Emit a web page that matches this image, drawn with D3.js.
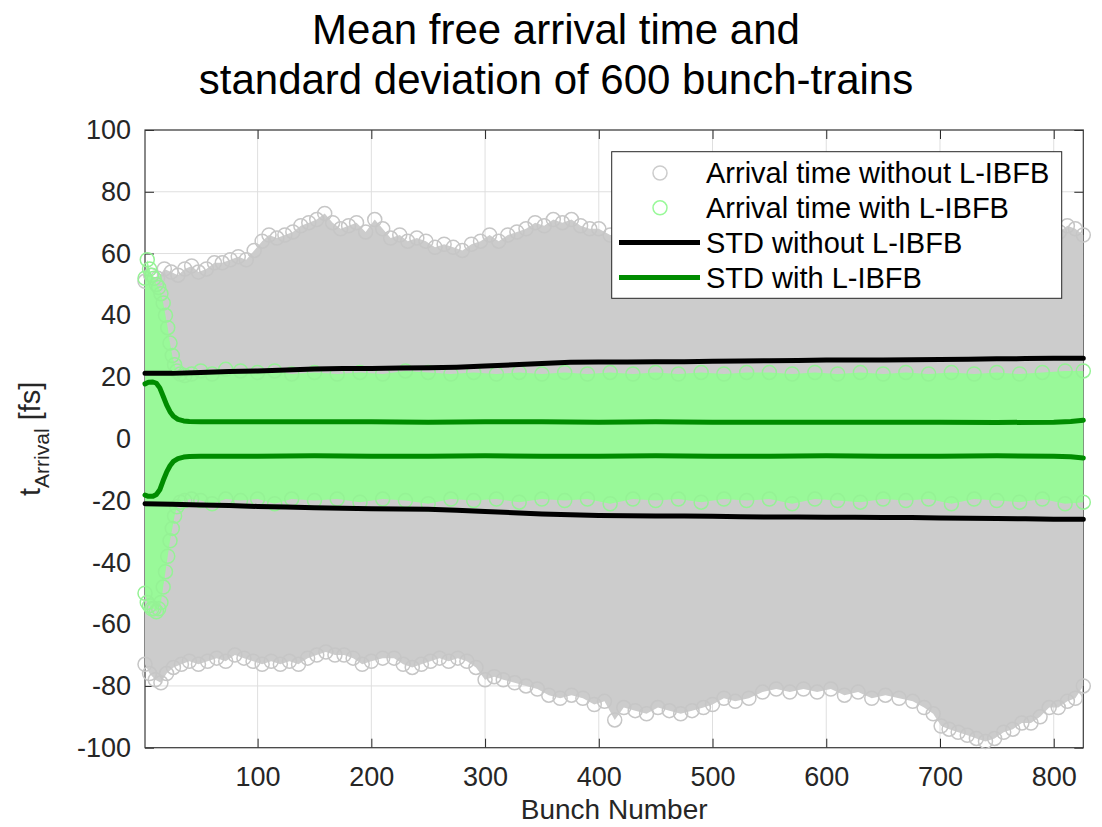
<!DOCTYPE html>
<html>
<head>
    <meta charset="utf-8">
    <title>Mean free arrival time</title>
    <style>
        body { margin: 0; background: #ffffff; }
        #chart text { font-family: "Liberation Sans", Arial, sans-serif; }
    </style>
    <script src="https://d3js.org/d3.v7.min.js"></script>
</head>
<body>
    <div id="chart"></div>

    <script>
        // axis ticks
        var xTicks = [100, 200, 300, 400, 500, 600, 700, 800];
        var yTicks = [-100, -80, -60, -40, -20, 0, 20, 40, 60, 80, 100];

        // STD curves
        var stdNoBunch = [1, 25, 50, 75, 100, 125, 150, 175, 200, 225, 250, 275, 300, 325, 350, 375, 400, 425, 450, 475, 500, 525, 550, 575, 600, 625, 650, 675, 700, 725, 750, 775, 800, 826];
        var stdNoUpper = [21.2, 21.2, 21.5, 21.8, 22.0, 22.3, 22.6, 22.8, 22.8, 22.9, 23.0, 23.2, 23.6, 24.0, 24.4, 24.8, 24.9, 24.9, 25.0, 25.0, 25.1, 25.2, 25.3, 25.4, 25.5, 25.5, 25.5, 25.6, 25.7, 25.8, 25.9, 26.0, 26.1, 26.1];
        var stdNoLower = [-21.0, -21.2, -21.4, -21.6, -21.9, -22.1, -22.3, -22.5, -22.6, -22.7, -22.8, -23.1, -23.5, -23.9, -24.3, -24.6, -24.8, -24.9, -25.0, -25.0, -25.1, -25.2, -25.3, -25.3, -25.4, -25.4, -25.5, -25.5, -25.6, -25.7, -25.8, -25.9, -26.0, -26.0];

        var stdWithBunch = [1, 4, 8, 11, 14, 17, 20, 23, 26, 30, 35, 40, 50, 75, 100, 150, 200, 250, 300, 350, 400, 450, 500, 550, 600, 650, 700, 750, 800, 815, 826];
        var stdWithUpper = [17.8, 18.3, 18.4, 18.0, 16.5, 13.8, 11.0, 8.8, 7.3, 6.3, 5.8, 5.6, 5.5, 5.5, 5.5, 5.5, 5.5, 5.4, 5.5, 5.5, 5.4, 5.5, 5.4, 5.4, 5.4, 5.4, 5.4, 5.3, 5.4, 5.6, 6.0];
        var stdWithLower = [-18.2, -18.6, -18.6, -18.0, -16.5, -13.5, -10.8, -8.7, -7.3, -6.4, -5.9, -5.7, -5.6, -5.6, -5.6, -5.5, -5.6, -5.6, -5.5, -5.6, -5.6, -5.5, -5.6, -5.6, -5.5, -5.6, -5.6, -5.5, -5.6, -5.8, -6.2];

        // outer edge of the grey cloud (arrival time without L-IBFB)
        var greyTopBunch = [1, 6, 12, 18, 24, 30, 36, 42, 48, 55, 62, 69, 76, 83, 90, 97, 104, 110, 117, 124, 131, 138, 145, 152, 159, 166, 173, 180, 187, 195, 203, 210, 217, 225, 232, 240, 248, 256, 264, 272, 280, 288, 296, 304, 312, 320, 328, 336, 344, 352, 360, 368, 376, 384, 392, 400, 410, 430, 460, 490, 520, 550, 580, 610, 640, 670, 700, 730, 760, 790, 805, 812, 819, 826];
        var greyTop = [51, 53, 52, 55, 54, 53, 55, 56, 54, 55, 57, 57, 58, 59, 58, 61, 64, 66, 65, 66, 67, 69, 70, 71, 73, 70, 68, 69, 70, 67, 71, 68, 65, 66, 64, 65, 64, 62, 63, 62, 61, 63, 64, 66, 64, 66, 67, 68, 70, 69, 71, 70, 71, 69, 68, 68, 66, 67, 65, 66, 63, 64, 62, 61, 62, 63, 63, 64, 65, 66, 67, 69, 68, 66];
        var greyLowBunch = [1, 5, 10, 15, 20, 26, 33, 40, 48, 56, 64, 72, 80, 88, 96, 104, 112, 120, 128, 136, 144, 152, 160, 168, 176, 184, 192, 200, 210, 220, 228, 236, 244, 252, 260, 268, 276, 284, 292, 300, 308, 316, 326, 336, 346, 356, 366, 376, 386, 396, 405, 414, 422, 432, 442, 452, 462, 472, 482, 492, 500, 510, 520, 532, 544, 556, 568, 580, 592, 604, 616, 628, 640, 652, 664, 676, 686, 694, 701, 708, 716, 724, 732, 740, 748, 756, 764, 772, 780, 788, 796, 804, 812, 819, 826];
        var greyLow = [-73, -76, -78, -79, -76, -74, -73, -72, -73, -72, -71, -72, -70, -71, -72, -73, -72, -73, -72, -73, -71, -70, -69, -70, -70, -71, -73, -72, -71, -71, -73, -74, -73, -72, -71, -72, -71, -72, -74, -78, -77, -78, -79, -80, -81, -83, -84, -83, -84, -86, -85, -91, -87, -88, -89, -87, -88, -89, -88, -87, -86, -84, -85, -84, -82, -81, -82, -81, -82, -81, -83, -82, -84, -83, -84, -85, -87, -89, -93, -94, -95, -96, -97, -98, -97, -95, -94, -92, -92, -90, -87, -87, -85, -84, -80];

        // outer edge of the green cloud (arrival time with L-IBFB)
        var greenBunch = [1, 3, 5, 7, 9, 11, 13, 15, 17, 19, 21, 23, 25, 27, 29, 32, 36, 42, 50, 60, 72, 85, 100, 115, 130, 150, 170, 190, 210, 230, 250, 270, 290, 310, 330, 350, 370, 390, 410, 430, 450, 470, 490, 510, 530, 550, 570, 590, 610, 630, 650, 670, 690, 710, 730, 750, 770, 790, 810, 826];
        var greenTop = [52, 58, 55, 53, 52, 50, 49, 47, 44, 40, 36, 31, 27, 24, 22, 21, 20.5, 21, 22, 21, 22.5, 22, 21.5, 22, 21, 21.5, 21, 21.5, 21, 22, 21.5, 21, 21.5, 21, 21.5, 21, 21.5, 21, 21.5, 21, 21.5, 21, 21.5, 21, 21.5, 21.5, 21, 21.5, 21, 21.5, 21, 21.5, 21, 21.5, 21, 21.5, 21, 21.5, 22, 22];
        var greenLow = [-50, -53, -54, -55, -55, -56, -55, -53, -48, -43, -38, -33, -29, -25, -22, -20.5, -20, -19.5, -20, -21, -19.5, -20, -19.5, -21, -19.5, -20, -19.5, -20.5, -19.5, -20, -21, -19.5, -20, -19.5, -20.5, -19.5, -20, -19.5, -21, -19.5, -20, -19.5, -20.5, -19.5, -20, -19.5, -21, -19.5, -20, -20.5, -19.5, -20, -19.5, -21, -19.5, -20, -20.5, -19.5, -21, -20.5];

        var legendLabels = ["Arrival time without L-IBFB", "Arrival time with L-IBFB", "STD without L-IBFB", "STD with L-IBFB"];

        var width = 1102, height = 827;
        var plotL = 145, plotR = 1083.3, plotT = 130, plotB = 747.7;

        var grey = "#cccccc", lightGreen = "#99f999", darkGreen = "#008c00";

        var svg = d3.select("#chart").append("svg")
            .attr("width", width)
            .attr("height", height);

        var x = d3.scaleLinear().domain([1, 826]).range([plotL, plotR]);
        var y = d3.scaleLinear().domain([-100, 100]).range([plotB, plotT]);

        // grid
        var grid = svg.append("g").attr("stroke", "#dfdfdf").attr("stroke-width", 1);
        grid.selectAll(".gx").data(xTicks).enter().append("line")
            .attr("x1", function(d) { return x(d); }).attr("x2", function(d) { return x(d); })
            .attr("y1", plotT).attr("y2", plotB);
        grid.selectAll(".gy").data(yTicks).enter().append("line")
            .attr("x1", plotL).attr("x2", plotR)
            .attr("y1", function(d) { return y(d); }).attr("y2", function(d) { return y(d); });

        // axes with inward ticks
        var plainNum = function(d) { return String(d); };
        function styleAxis(g) {
            g.attr("font-family", null).attr("font-size", null);
            g.select(".domain").remove();
            g.selectAll(".tick line").attr("stroke", "#262626");
            g.selectAll(".tick text").attr("fill", "#262626").style("font-size", "27px");
        }
        svg.append("g").attr("transform", "translate(0," + plotB + ")")
            .call(d3.axisBottom(x).tickValues(xTicks).tickFormat(plainNum).tickSize(-9).tickPadding(19))
            .call(styleAxis);
        svg.append("g").attr("transform", "translate(0," + plotT + ")")
            .call(d3.axisTop(x).tickValues(xTicks).tickSize(-9).tickFormat(""))
            .call(styleAxis);
        svg.append("g").attr("transform", "translate(" + plotL + ",0)")
            .call(d3.axisLeft(y).tickValues(yTicks).tickFormat(plainNum).tickSize(-9).tickPadding(14))
            .call(styleAxis);
        svg.append("g").attr("transform", "translate(" + plotR + ",0)")
            .call(d3.axisRight(y).tickValues(yTicks).tickSize(-9).tickFormat(""))
            .call(styleAxis);

        svg.append("rect")
            .attr("x", plotL).attr("y", plotT)
            .attr("width", plotR - plotL).attr("height", plotB - plotT)
            .attr("fill", "none").attr("stroke", "#3a3a3a").attr("stroke-width", 1.2);

        // clouds
        var line = d3.line().x(function(d) { return x(d[0]); }).y(function(d) { return y(d[1]); });

        function cloud(topB, topV, lowB, lowV, colour, edge) {
            var topPts = topB.map(function(b, i) { return [b, topV[i]]; });
            var lowPts = lowB.map(function(b, i) { return [b, lowV[i]]; });
            var outline = topPts.concat(lowPts.slice().reverse());
            svg.append("path")
                .attr("d", line(outline) + "Z")
                .attr("fill", colour);
            svg.append("g").selectAll("circle")
                .data(topPts.concat(lowPts))
                .enter().append("circle")
                .attr("cx", function(d) { return x(d[0]); })
                .attr("cy", function(d) { return y(d[1]); })
                .attr("r", 7)
                .attr("fill", "none")
                .attr("stroke", edge)
                .attr("stroke-width", 1.5);
        }
        cloud(greyTopBunch, greyTop, greyLowBunch, greyLow, grey, "#c6c6c6");
        cloud(greenBunch, greenTop, greenBunch, greenLow, lightGreen, "#95f295");

        // std lines
        function stdLine(bunch, vals, colour) {
            svg.append("path")
                .attr("d", line(bunch.map(function(b, i) { return [b, vals[i]]; })))
                .attr("fill", "none")
                .attr("stroke", colour)
                .attr("stroke-width", 5)
                .attr("stroke-linejoin", "round")
                .attr("stroke-linecap", "round");
        }
        stdLine(stdNoBunch, stdNoUpper, "#000000");
        stdLine(stdNoBunch, stdNoLower, "#000000");
        stdLine(stdWithBunch, stdWithUpper, darkGreen);
        stdLine(stdWithBunch, stdWithLower, darkGreen);

        // labels
        svg.append("text")
            .attr("x", (plotL + plotR) / 2).attr("y", 819)
            .attr("text-anchor", "middle")
            .attr("fill", "#262626")
            .style("font-size", "28px")
            .text("Bunch Number");

        var yl = svg.append("text")
            .attr("transform", "translate(40," + ((plotT + plotB) / 2) + ") rotate(-90)")
            .attr("text-anchor", "middle")
            .attr("fill", "#262626")
            .style("font-size", "29px");
        yl.append("tspan").text("t");
        yl.append("tspan").attr("dy", 9).style("font-size", "21px").text("Arrival");
        yl.append("tspan").attr("dy", -9).text(" [fs]");

        var title = svg.append("text")
            .attr("text-anchor", "middle")
            .attr("fill", "#000000")
            .style("font-size", "42px");
        title.append("tspan").attr("x", 556).attr("y", 44).text("Mean free arrival time and");
        title.append("tspan").attr("x", 556).attr("y", 94).text("standard deviation of 600 bunch-trains");

        // legend
        var lg = svg.append("g");
        lg.append("rect")
            .attr("x", 611.7).attr("y", 151.7)
            .attr("width", 450).attr("height", 146.6)
            .attr("fill", "#ffffff").attr("stroke", "#262626").attr("stroke-width", 1);

        var rows = lg.selectAll(".row").data(legendLabels).enter().append("g")
            .attr("transform", function(d, i) { return "translate(0," + (173 + i * 34.8) + ")"; });
        rows.append("text")
            .attr("x", 706).attr("dy", "0.35em")
            .attr("fill", "#000000")
            .style("font-size", "29px")
            .text(function(d) { return d; });
        rows.filter(function(d, i) { return i < 2; }).append("circle")
            .attr("cx", 660).attr("r", 7)
            .attr("fill", "none")
            .attr("stroke", function(d, i) { return i === 0 ? grey : lightGreen; })
            .attr("stroke-width", 1.5);
        rows.filter(function(d, i) { return i >= 2; }).append("line")
            .attr("x1", 619).attr("x2", 700)
            .attr("stroke", function(d, i) { return i === 0 ? "#000000" : darkGreen; })
            .attr("stroke-width", 5);
    </script>
</body>
</html>
